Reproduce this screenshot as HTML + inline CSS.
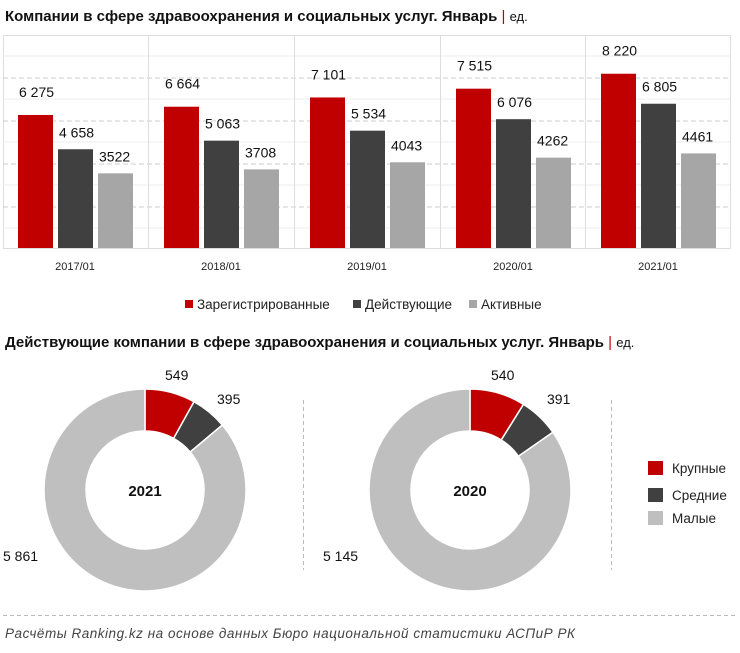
<!DOCTYPE html>
<html><head><meta charset="utf-8"><style>
body{margin:0;background:#fff;width:740px;height:648px;overflow:hidden;font-family:"Liberation Sans","DejaVu Sans",sans-serif}
svg text{font-family:"Liberation Sans","DejaVu Sans",sans-serif}
</style></head><body>
<svg id="s" width="740" height="648" xmlns="http://www.w3.org/2000/svg">
<text x="5" y="21" font-size="15" font-weight="bold" fill="#111">Компании в сфере здравоохранения и социальных услуг. Январь <tspan fill="#c00000" font-weight="normal">|</tspan> <tspan font-weight="normal" font-size="13">ед.</tspan></text>
<g stroke="#ddd" stroke-width="1" fill="none">
<rect x="3.5" y="35.5" width="727" height="213"/>
<line x1="3" y1="56" x2="730" y2="56" stroke="#eee"/>
<line x1="3" y1="99" x2="730" y2="99" stroke="#eee"/>
<line x1="3" y1="142" x2="730" y2="142" stroke="#eee"/>
<line x1="3" y1="185" x2="730" y2="185" stroke="#eee"/>
<line x1="3" y1="228" x2="730" y2="228" stroke="#eee"/>
<line x1="3" y1="78" x2="730" y2="78" stroke-dasharray="5,3" stroke="#ccc"/>
<line x1="3" y1="121" x2="730" y2="121" stroke-dasharray="5,3" stroke="#ccc"/>
<line x1="3" y1="164" x2="730" y2="164" stroke-dasharray="5,3" stroke="#ccc"/>
<line x1="3" y1="207" x2="730" y2="207" stroke-dasharray="5,3" stroke="#ccc"/>
<line x1="148.5" y1="35" x2="148.5" y2="248"/>
<line x1="294.5" y1="35" x2="294.5" y2="248"/>
<line x1="440.5" y1="35" x2="440.5" y2="248"/>
<line x1="585.5" y1="35" x2="585.5" y2="248"/>
</g>
<g id="bars"></g>
<g font-size="11" fill="#222" text-anchor="middle">
<text x="75" y="270">2017/01</text><text x="221" y="270">2018/01</text><text x="367" y="270">2019/01</text><text x="513" y="270">2020/01</text><text x="658" y="270">2021/01</text>
</g>
<g font-size="13.5" fill="#222">
<rect x="185" y="300" width="8" height="8" fill="#c00000"/><text x="197" y="309">Зарегистрированные</text>
<rect x="353" y="300" width="8" height="8" fill="#404040"/><text x="365" y="309">Действующие</text>
<rect x="469" y="300" width="8" height="8" fill="#a6a6a6"/><text x="481" y="309">Активные</text>
</g>
<text x="5" y="347" font-size="15" font-weight="bold" fill="#111">Действующие компании в сфере здравоохранения и социальных услуг. Январь <tspan fill="#c00000" font-weight="normal">|</tspan> <tspan font-weight="normal" font-size="13">ед.</tspan></text>
<g id="donuts"></g>
<g font-size="15" font-weight="bold" fill="#111" text-anchor="middle">
<text x="145" y="496">2021</text><text x="470" y="496">2020</text>
</g>
<g font-size="14" fill="#111">
<text x="165" y="380">549</text><text x="217" y="404">395</text><text x="3" y="561">5 861</text>
<text x="491" y="380">540</text><text x="547" y="404">391</text><text x="323" y="561">5 145</text>
</g>
<g stroke="#bbb" stroke-dasharray="4,3">
<line x1="303.5" y1="400" x2="303.5" y2="570"/>
<line x1="611.5" y1="400" x2="611.5" y2="570"/>
<line x1="3" y1="615.5" x2="735" y2="615.5"/>
</g>
<g font-size="13.5" fill="#222">
<rect x="648" y="461" width="15" height="14" fill="#c00000"/><text x="672" y="473">Крупные</text>
<rect x="648" y="488" width="15" height="14" fill="#404040"/><text x="672" y="500">Средние</text>
<rect x="648" y="511" width="15" height="14" fill="#bfbfbf"/><text x="672" y="523">Малые</text>
</g>
<text x="5" y="638" font-size="13.5" font-style="italic" fill="#444" textLength="570">Расчёты Ranking.kz на основе данных  Бюро национальной  статистики АСПиР РК</text>
</svg>
<script>
var NS="http://www.w3.org/2000/svg";
function el(p,t,a,txt){var e=document.createElementNS(NS,t);for(var k in a)e.setAttribute(k,a[k]);if(txt)e.textContent=txt;p.appendChild(e);return e;}
var data=[[6275,4658,3522,"6 275","4 658","3522"],[6664,5063,3708,"6 664","5 063","3708"],[7101,5534,4043,"7 101","5 534","4043"],[7515,6076,4262,"7 515","6 076","4262"],[8220,6805,4461,"8 220","6 805","4461"]];
var cols=["#c00000","#404040","#a6a6a6"];var g=document.getElementById("bars");
var starts=[18,164,310,456,601];
data.forEach(function(d,i){for(var j=0;j<3;j++){var h=d[j]*0.0212;var x=starts[i]+j*40;
el(g,"rect",{x:x,y:248-h,width:35,height:h,fill:cols[j]});
el(g,"text",{x:x+1,y:248-h-(j==0?18:12),"font-size":14,fill:"#111"},d[j+3]);}});
var dg=document.getElementById("donuts");
function arc(cx,cy,R,r,a0,a1,fill){function p(rad,a){var t=(a-90)*Math.PI/180;return [cx+rad*Math.cos(t),cy+rad*Math.sin(t)];}
var L=(a1-a0)>180?1:0;var A=p(R,a0),B=p(R,a1),C=p(r,a1),D=p(r,a0);
el(dg,"path",{d:"M"+A+"A"+R+","+R+" 0 "+L+" 1 "+B+"L"+C+"A"+r+","+r+" 0 "+L+" 0 "+D+"Z",fill:fill,stroke:"#fff","stroke-width":1.5});}
[[145,[549,395,5861]],[470,[540,391,5145]]].forEach(function(o){var t=o[1][0]+o[1][1]+o[1][2];var a=0;var cs=["#c00000","#404040","#bfbfbf"];
o[1].forEach(function(v,i){var b=a+v/t*360;arc(o[0],490,101,59,a,Math.min(b,359.99),cs[i]);a=b;});});
</script>
</body></html>
